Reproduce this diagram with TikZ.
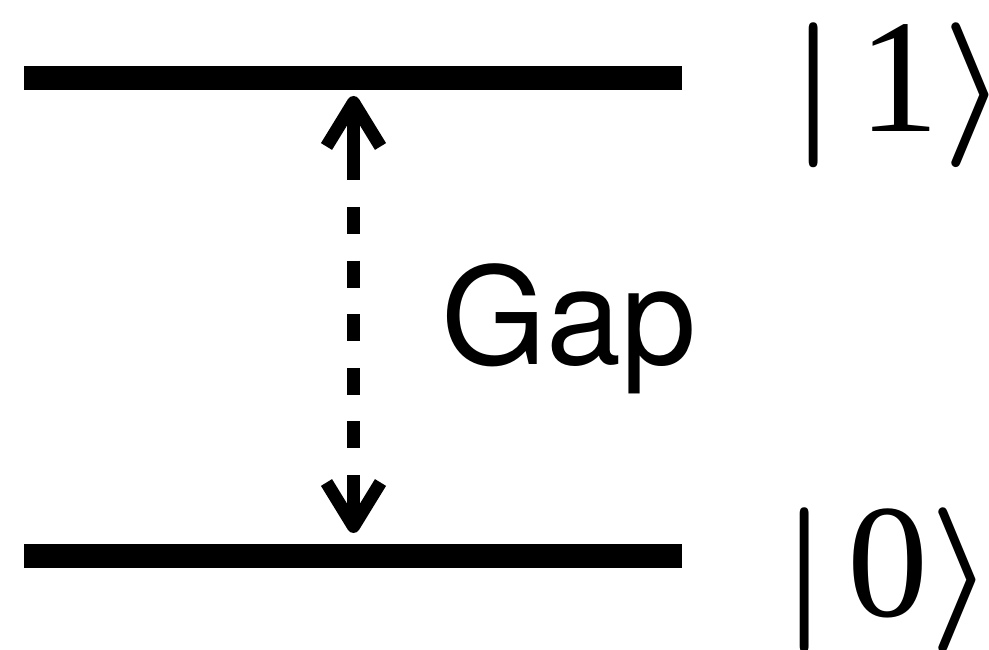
\RequirePackage{fix-cm}
\documentclass[tikz,border=0pt]{standalone}
\usepackage{fontspec}
\setsansfont{TeX Gyre Heros}
\newfontfamily\ketserif{Liberation Serif}
\usetikzlibrary{arrows.meta}
\tikzset{
  level/.style={line width=24pt, line cap=butt},
  gaparrow/.style={line width=13pt, line cap=butt,
    dash pattern=on 71.4pt off 26.6pt on 27pt off 26.6pt on 27pt off 26.6pt on 27pt off 26.6pt on 27pt off 26.6pt on 27pt off 26.6pt on 80pt,
    {Straight Barb[length=44pt 0, width=54pt 0, line join=round]}-{Straight Barb[length=44pt 0, width=54pt 0, line join=round]}},
  gaplabel/.style={inner sep=0pt, anchor=base west, font=\sffamily\fontsize{135}{135}\selectfont},
  ketlabel/.style={inner sep=0pt, anchor=base west}
}
\newcommand{\ketsym}[3]{{\fontsize{145}{145}\selectfont\boldmath$|$\hspace{#2}{\fontsize{162}{162}\selectfont\ketserif #1}\hspace{#3}$\rangle$}}
\begin{document}
\begin{tikzpicture}[x=1pt,y=1pt]
\useasboundingbox (0,0) rectangle (989,649);
\coordinate (top west) at (24.3,571.3);
\coordinate (top east) at (681.7,571.3);
\coordinate (bot west) at (24.3,93.5);
\coordinate (bot east) at (681.7,93.5);
\coordinate (tA) at (353.5,553);
\coordinate (bA) at (353.5,116);
\draw[level] (top west) -- (top east);
\draw[level] (bot west) -- (bot east);
\draw[gaparrow] (tA) -- (bA);
\node[gaplabel] (gap) at (441,284) {Gap};
\node[ketlabel] (ket1) at (790,517) {\ketsym{1}{22pt}{3pt}};
\node[ketlabel] (ket0) at (781,33) {\ketsym{0}{20pt}{1pt}};
\end{tikzpicture}
\end{document}
